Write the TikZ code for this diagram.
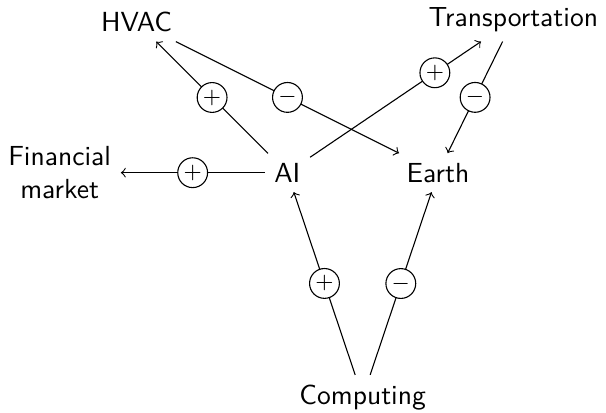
\documentclass[tikz,border=0pt]{standalone}
\usepackage{amsmath}
\usepackage{tikz}
\usetikzlibrary{shapes.geometric, arrows}
\tikzstyle{topic} = [font=\sffamily, align=center]
\tikzstyle{sign} = [circle, draw=black, fill=white, inner sep=0pt, minimum size=3.8mm, font=\footnotesize]
\tikzstyle{arrow} = [->]
\begin{document}
\begin{tikzpicture}[node distance=1.92cm]
		\useasboundingbox (-3.66,2.20) rectangle (4.06,-3.06);
		% Nodes
		\node (AI) [topic] {AI};
		\node (Earth) [topic, right of = AI] {Earth};
		\node (HVAC) [topic, above of = AI, left of = AI] {HVAC};
		\node (Transport) [topic, above of = Earth, xshift = 0.96cm, yshift = 0.03cm] {Transportation};
		\node (Finance) [topic, left of = AI, xshift = -0.98cm] {Financial\\market};
		\node (Computing) [topic, below of = AI, xshift = 0.96cm, yshift = -0.94cm] {Computing};
		% Arrows
		\draw [arrow] (AI) -- node [sign] {$+$} (HVAC);
		\draw [arrow] (HVAC) -- node [sign] {$-$} (Earth);
		\draw [arrow] (AI) -- node [sign, pos = 0.73] {$+$} (Transport);
		\draw [arrow] (Transport) -- node [sign] {$-$} (Earth);
		\draw [arrow] (AI) -- node [sign] {$+$} (Finance);
		\draw [arrow] (Computing) -- node [sign] {$+$} (AI);
		\draw [arrow] (Computing) -- node [sign] {$-$} (Earth);
	\end{tikzpicture}
\end{document}
